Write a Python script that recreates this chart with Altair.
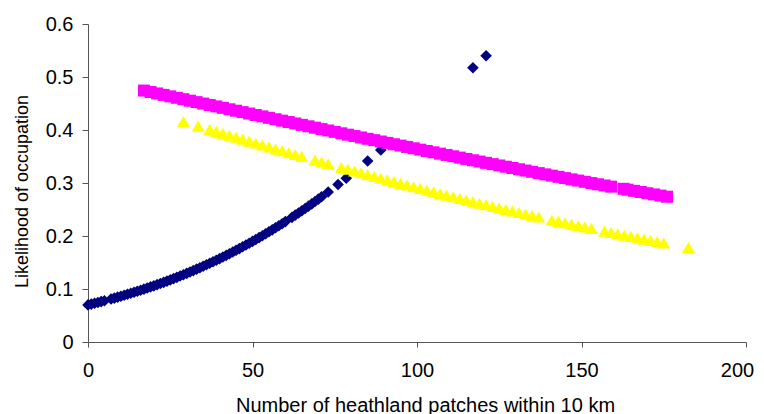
import altair as alt
import pandas as pd

# Series 1 (navy diamonds)
blue_x = [0, 1, 2, 3, 4, 5, 7, 8, 9, 10, 11, 12, 13, 14, 15, 16, 17, 18, 19, 20,
          21, 22, 23, 24, 25, 26, 27, 28, 29, 30, 31, 32, 33, 34, 35, 36, 37, 38, 39, 40,
          41, 42, 43, 44, 45, 46, 47, 48, 49, 50, 51, 52, 53, 54, 55, 56, 57, 58, 59, 60,
          62, 63, 64, 65, 66, 67, 68, 69, 70, 71, 73, 76, 78.5, 85, 89, 117, 121]
blue_y = [0.0700, 0.0715, 0.0730, 0.0746, 0.0762, 0.0778, 0.0811, 0.0828, 0.0846, 0.0863,
          0.0881, 0.0900, 0.0919, 0.0938, 0.0957, 0.0977, 0.0997, 0.1018, 0.1039, 0.1060,
          0.1082, 0.1104, 0.1126, 0.1149, 0.1172, 0.1196, 0.1220, 0.1245, 0.1270, 0.1295,
          0.1321, 0.1347, 0.1374, 0.1401, 0.1429, 0.1457, 0.1485, 0.1514, 0.1543, 0.1573,
          0.1604, 0.1634, 0.1666, 0.1698, 0.1730, 0.1762, 0.1796, 0.1829, 0.1864, 0.1898,
          0.1933, 0.1969, 0.2005, 0.2042, 0.2079, 0.2116, 0.2155, 0.2193, 0.2232, 0.2272,
          0.2352, 0.2394, 0.2435, 0.2477, 0.2520, 0.2563, 0.2606, 0.2650, 0.2695, 0.2740,
          0.2831, 0.2971, 0.3091, 0.3415, 0.3622, 0.5175, 0.5401]

# Series 2 (magenta squares)
mag_x = [17, 19, 21, 23, 25, 27, 29, 31, 33, 35, 37, 39, 41, 43, 45, 47, 49, 51, 53, 55,
         57, 59, 61, 63, 65, 67, 69, 71, 73, 75, 77, 79, 81, 83, 85, 87, 89, 91, 93, 95,
         97, 99, 101, 103, 105, 107, 109, 111, 113, 115, 117, 119, 121, 123, 125, 127, 129, 131, 133, 135,
         137, 139, 141, 143, 145, 147, 149, 151, 153, 155, 157, 159, 162.8, 164, 166, 168, 170, 172, 174, 176]
mag_y = [0.4744, 0.4717, 0.4690, 0.4662, 0.4635, 0.4608, 0.4581, 0.4553, 0.4526, 0.4499,
         0.4472, 0.4445, 0.4418, 0.4391, 0.4364, 0.4337, 0.4310, 0.4283, 0.4257, 0.4230,
         0.4203, 0.4176, 0.4150, 0.4123, 0.4097, 0.4070, 0.4044, 0.4017, 0.3991, 0.3965,
         0.3938, 0.3912, 0.3886, 0.3860, 0.3834, 0.3808, 0.3783, 0.3757, 0.3731, 0.3706,
         0.3680, 0.3655, 0.3629, 0.3604, 0.3579, 0.3554, 0.3529, 0.3504, 0.3479, 0.3454,
         0.3429, 0.3405, 0.3380, 0.3356, 0.3331, 0.3307, 0.3283, 0.3259, 0.3235, 0.3211,
         0.3187, 0.3163, 0.3139, 0.3116, 0.3092, 0.3069, 0.3046, 0.3022, 0.2999, 0.2976,
         0.2953, 0.2931, 0.2891, 0.2874, 0.2852, 0.2830, 0.2807, 0.2785, 0.2763, 0.2741]

# Series 3 (yellow triangles)
yel_x = [29, 33.5, 37, 39, 41, 43, 45, 47, 49, 51, 53, 55, 57, 59, 61, 63, 65,
         69, 71, 73, 77, 79, 81, 83, 85, 87, 89, 91, 93, 95, 97, 99, 101, 103, 105,
         107, 109, 111, 113, 115, 117, 119, 121, 123, 125, 127, 129, 131, 133, 135, 137,
         141, 143, 145, 147, 149, 151, 153, 157, 159, 161, 163, 165, 167, 169, 171, 173, 175, 182.5]
yel_y = [0.4161, 0.4076, 0.4011, 0.3974, 0.3937, 0.3900, 0.3863, 0.3827, 0.3790, 0.3754,
         0.3717, 0.3681, 0.3645, 0.3609, 0.3574, 0.3538, 0.3503,
         0.3433, 0.3398, 0.3363, 0.3294, 0.3260, 0.3226, 0.3193, 0.3159, 0.3125, 0.3092,
         0.3059, 0.3026, 0.2994, 0.2962, 0.2929, 0.2898, 0.2866, 0.2834,
         0.2803, 0.2772, 0.2741, 0.2710, 0.2680, 0.2649, 0.2619, 0.2589, 0.2560, 0.2530,
         0.2501, 0.2472, 0.2444, 0.2415, 0.2387, 0.2359,
         0.2303, 0.2276, 0.2249, 0.2222, 0.2195, 0.2169, 0.2143, 0.2091, 0.2065, 0.2040,
         0.2015, 0.1990, 0.1966, 0.1941, 0.1917, 0.1893, 0.1870, 0.1783]

x_ticks = [0, 50, 100, 150, 200]
y_ticks = [0, 0.1, 0.2, 0.3, 0.4, 0.5, 0.6]

FONT = "Liberation Sans"

blue_df = pd.DataFrame({"x": blue_x, "y": blue_y})
mag_df = pd.DataFrame({"x": mag_x, "y": mag_y})
yel_df = pd.DataFrame({"x": yel_x, "y": yel_y})

x_enc = alt.X("x:Q", scale=alt.Scale(domain=[0, 200], nice=False),
              axis=alt.Axis(values=x_ticks, title="Number of heathland patches within 10 km",
                            grid=False, tickSize=5, labelPadding=13, labelFontSize=20,
                            labelOffset={"condition": {"test": "datum.value == 200", "value": -9}, "value": 0},
                            titleFontSize=20, titleX=337, titleY=63, titleBaseline="middle",
                            labelFlush=False, labelOverlap=False))
y_enc = alt.Y("y:Q", scale=alt.Scale(domain=[0, 0.6], nice=False),
              axis=alt.Axis(values=y_ticks, title="Likelihood of occupation",
                            labelExpr="datum.value == 0 ? '0' : format(datum.value, '.1f')",
                            grid=False, tickSize=6, labelPadding=9, labelFontSize=20,
                            titleFontSize=18, titleX=-66, titleY=167, titleBaseline="middle",
                            labelFlush=False, labelOverlap=False))

blue = alt.Chart(blue_df).mark_point(shape="diamond", filled=True, size=135, color="#000080", opacity=1).encode(x=x_enc, y=y_enc)
mag = alt.Chart(mag_df).mark_point(shape="square", filled=True, size=144, color="#FF00FF", opacity=1).encode(x=x_enc, y=y_enc)
yel = alt.Chart(yel_df).mark_point(shape="triangle-up", filled=True, size=165, color="#FFFF00", opacity=1).encode(x=x_enc, y=y_enc)

chart = alt.layer(blue, mag, yel).properties(
    width=658, height=318,
    autosize=alt.AutoSizeParams(type="none"),
    padding={"left": 80, "top": 16, "right": 10, "bottom": 72},
).configure_view(stroke=None).configure_axis(
    domainColor="#555555", tickColor="#555555", labelColor="#000000", titleColor="#000000",
    labelFont=FONT, titleFont=FONT, titleFontWeight="normal",
)

chart.save("out.html", embed_options={"renderer": "svg", "actions": False})
